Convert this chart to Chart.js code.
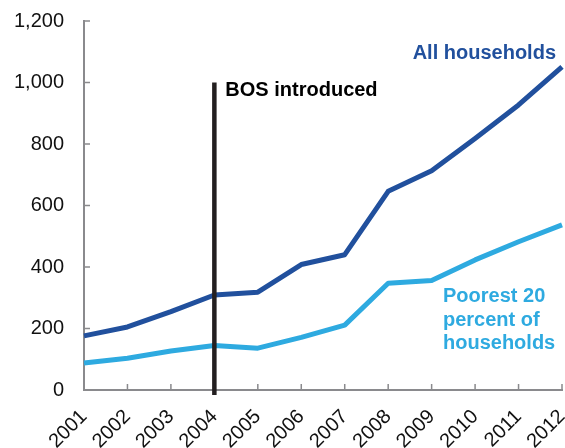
<!DOCTYPE html>
<html>
<head>
<meta charset="utf-8">
<script src="https://cdn.jsdelivr.net/npm/chart.js@4/dist/chart.umd.min.js"></script>
<style>
  html, body { margin: 0; padding: 0; background: #fff; }
  #wrap { width: 565px; height: 448px; }
</style>
</head>
<body>
<div id="wrap"><canvas id="chart" width="565" height="448"></canvas></div>
<script>
"use strict";

// ── Data ──────────────────────────────────────────────────────────────────────
const years = ["2001","2002","2003","2004","2005","2006","2007","2008","2009","2010","2011","2012"];
const allHouseholds = [176, 205, 255, 309, 318, 408, 440, 646, 713, 818, 927, 1051];
const poorest20     = [ 88, 103, 127, 145, 136, 171, 211, 347, 356, 423, 482, 537];
const yTicks = [0, 200, 400, 600, 800, 1000, 1200];
const bosYear = "2004";
const bosTop  = 1000;

// ── Colours ──────────────────────────────────────────────────────────────────
const CLR = {
  dark:  "#21509d",
  light: "#2eaae0",
  axis:  "#8a8a8d",
  bos:   "#231f20",
  text:  "#111111",
};

const FONT = "'Liberation Sans', Arial, sans-serif";

// ── BOS marker + inward tick marks + annotations ─────────────────────────────
const decorPlugin = {
  id: "decor",
  afterDatasetsDraw(chart) {
    const { ctx } = chart;
    const x = chart.scales.x, y = chart.scales.y;

    // inward ticks
    ctx.save();
    ctx.strokeStyle = CLR.axis;
    ctx.lineWidth = 1.5;
    ctx.beginPath();
    x.ticks.forEach((t, i) => {
      const px = x.getPixelForTick(i);
      ctx.moveTo(px, y.bottom);
      ctx.lineTo(px, y.bottom - 6);
    });
    y.ticks.forEach((t, i) => {
      const py = y.getPixelForTick(i);
      ctx.moveTo(x.left, py);
      ctx.lineTo(x.left + 6, py);
    });
    ctx.stroke();

    // BOS introduced marker
    const bx = x.getPixelForValue(years.indexOf(bosYear));
    ctx.strokeStyle = CLR.bos;
    ctx.lineWidth = 4.5;
    ctx.beginPath();
    ctx.moveTo(bx, y.getPixelForValue(bosTop));
    ctx.lineTo(bx, y.bottom + 5);
    ctx.stroke();

    // annotations
    ctx.font = "bold 20px " + FONT;
    ctx.textBaseline = "alphabetic";
    ctx.fillStyle = "#000";
    ctx.textAlign = "left";
    ctx.fillText("BOS introduced", bx + 11, 96);

    ctx.fillStyle = CLR.dark;
    ctx.textAlign = "right";
    ctx.fillText("All households", 556, 59);

    ctx.fillStyle = CLR.light;
    ctx.textAlign = "left";
    ["Poorest 20", "percent of", "households"].forEach((s, i) => {
      ctx.fillText(s, 443, 302 + i * 23.5);
    });
    ctx.restore();
  },
};

new Chart(document.getElementById("chart"), {
  type: "line",
  data: {
    labels: years,
    datasets: [
      {
        label: "All households",
        data: allHouseholds,
        borderColor: CLR.dark,
        borderWidth: 5,
        pointRadius: 0,
        tension: 0,
        borderJoinStyle: "round",
      },
      {
        label: "Poorest 20 percent of households",
        data: poorest20,
        borderColor: CLR.light,
        borderWidth: 5,
        pointRadius: 0,
        tension: 0,
        borderJoinStyle: "round",
      },
    ],
  },
  options: {
    responsive: false,
    animation: false,
    devicePixelRatio: 1,
    layout: { padding: { top: 21, right: 3, bottom: 0, left: 0 } },
    plugins: {
      legend: { display: false },
      tooltip: { enabled: false },
    },
    scales: {
      x: {
        offset: false,
        grid: { display: false, drawTicks: false },
        border: { color: CLR.axis, width: 2 },
        ticks: {
          color: CLR.text,
          font: { family: FONT, size: 20 },
          maxRotation: 45,
          minRotation: 45,
          padding: 15,
          autoSkip: false,
        },
        afterFit(scale) {
          scale.height = 58;
          scale.paddingLeft = 0;
          scale.paddingRight = 0;
        },
      },
      y: {
        min: 0,
        max: 1200,
        afterBuildTicks(scale) { scale.ticks = yTicks.map(v => ({ value: v })); },
        grid: { display: false, drawTicks: false },
        border: { color: CLR.axis, width: 2 },
        ticks: {
          color: CLR.text,
          font: { family: FONT, size: 20 },
          padding: 20,
          callback: v => v.toLocaleString("en-US"),
        },
        afterFit(scale) {
          scale.width = 84;
          scale.paddingTop = 0;
          scale.paddingBottom = 0;
        },
      },
    },
  },
  plugins: [decorPlugin],
});
</script>
</body>
</html>
